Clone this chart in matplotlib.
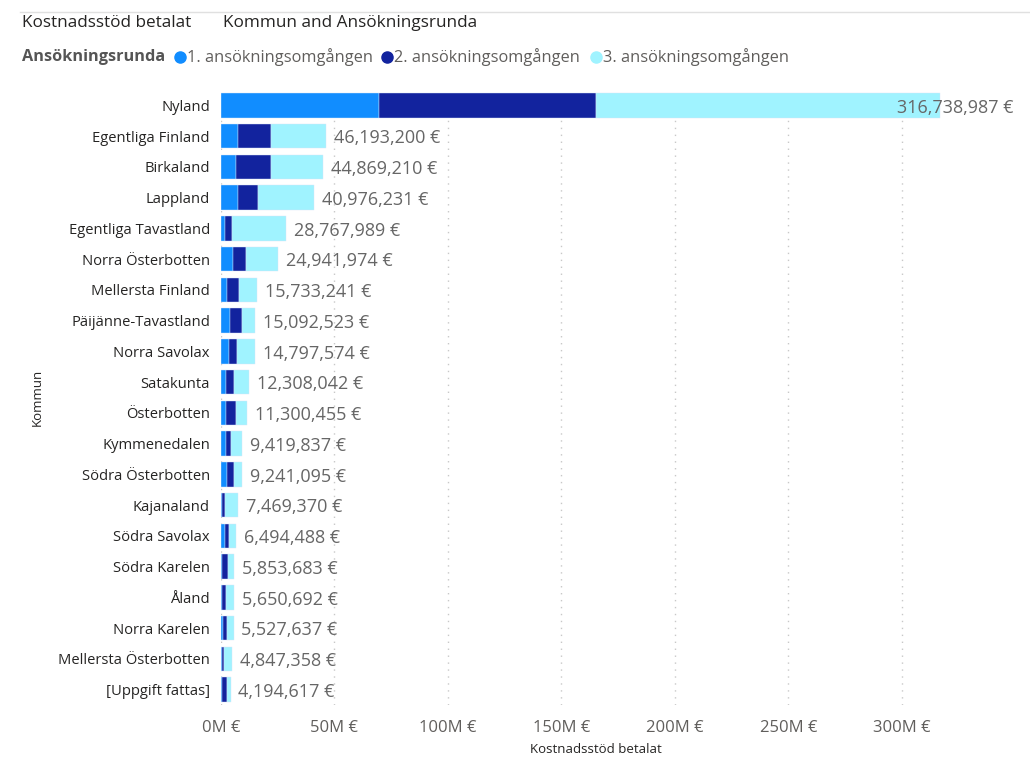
import matplotlib.pyplot as plt
from matplotlib.lines import Line2D
from matplotlib.ticker import FuncFormatter

plt.rcParams['font.family'] = ['Open Sans', 'DejaVu Sans']

# Data (millions of euro)
kommuner = ['Nyland', 'Egentliga Finland', 'Birkaland', 'Lappland', 'Egentliga Tavastland',
            'Norra Österbotten', 'Mellersta Finland', 'Päijänne-Tavastland', 'Norra Savolax',
            'Satakunta', 'Österbotten', 'Kymmenedalen', 'Södra Österbotten', 'Kajanaland',
            'Södra Savolax', 'Södra Karelen', 'Åland', 'Norra Karelen',
            'Mellersta Österbotten', '[Uppgift fattas]']
totals = [316738987, 46193200, 44869210, 40976231, 28767989, 24941974, 15733241, 15092523,
          14797574, 12308042, 11300455, 9419837, 9241095, 7469370, 6494488, 5853683,
          5650692, 5527637, 4847358, 4194617]
runda1 = [69.6, 7.3, 6.6, 7.3, 1.8, 5.1, 2.5, 4.1, 3.5, 2.1, 2.1, 2.4, 2.6, 0.4, 1.7, 0.4,
          0.6, 0.7, 0.3, 0.6]
runda2 = [95.6, 14.6, 15.3, 9.1, 2.9, 5.8, 5.4, 5.2, 3.5, 3.8, 4.4, 1.9, 3.0, 1.3, 1.8, 2.5,
          1.6, 1.9, 0.9, 1.9]
# third round = remainder of total
runda3 = [t / 1e6 - a - b for t, a, b in zip(totals, runda1, runda2)]

serier = ['1. ansökningsomgången', '2. ansökningsomgången', '3. ansökningsomgången']
colors = ['#118DFF', '#12239E', '#A0F3FF']

fig = plt.figure(figsize=(10.30, 7.58), dpi=100)
ax = fig.add_axes([221 / 1030, 1 - 705 / 758, (970 - 221) / 1030, (705 - 90) / 758])

y = list(range(len(kommuner)))
left = [0] * len(kommuner)
for vals, c in zip([runda1, runda2, runda3], colors):
    ax.barh(y, vals, left=left, height=0.79, color=c, edgecolor='#D8E4F8', linewidth=0.3,
            zorder=2)
    left = [l + v for l, v in zip(left, vals)]

for i, t in enumerate(totals):
    lbl = f'{t:,} €'
    x = t / 1e6 - 19 if i == 0 else t / 1e6 + 3.5
    ax.text(x, i + 0.07, lbl, va='center', ha='left', fontsize=13, color='#666666', zorder=3)

ax.set_ylim(len(kommuner) - 0.5, -0.5)
ax.set_xlim(0, 330)
ax.set_yticks(y)
ax.set_yticklabels(kommuner, fontsize=10.6, color='#252423')
ax.set_xticks([0, 50, 100, 150, 200, 250, 300])
ax.xaxis.set_major_formatter(FuncFormatter(lambda v, p: f'{v:.0f}M €'))
ax.tick_params(axis='x', labelsize=12, colors='#605E5C', length=0, pad=11)
ax.tick_params(axis='y', length=0, pad=8)
ax.grid(axis='x', color='#C8C8C8', linestyle=(0, (1, 4)), linewidth=1, zorder=0)
for s in ax.spines.values():
    s.set_visible(False)

ax.set_xlabel('Kostnadsstöd betalat', fontsize=9.5, color='#252423', labelpad=5)
ax.set_ylabel('Kommun', fontsize=9.5, color='#252423', labelpad=10)

# header
fig.add_artist(Line2D([20 / 1030, 1], [1 - 12 / 758] * 2, color='#E0E0E0', linewidth=1))
fig.text(22 / 1030, 1 - 23 / 758, 'Kostnadsstöd betalat', fontsize=12.3, color='#252423',
         va='center')
fig.text(223 / 1030, 1 - 23 / 758, 'Kommun and Ansökningsrunda', fontsize=12.3,
         color='#252423', va='center')

# legend
fig.text(22 / 1030, 1 - 57 / 758, 'Ansökningsrunda', fontsize=11.7, color='#555555',
         fontweight='bold', va='center')
xs = [180, 387, 596]
for x0, name, c in zip(xs, serier, colors):
    fig.add_artist(Line2D([x0 / 1030], [1 - 57 / 758], marker='o', markersize=8, color=c,
                          linestyle='none'))
    fig.text((x0 + 7) / 1030, 1 - 57 / 758, name, fontsize=11.8, color='#605E5C', va='center')

fig.savefig('out.png', dpi=100)
